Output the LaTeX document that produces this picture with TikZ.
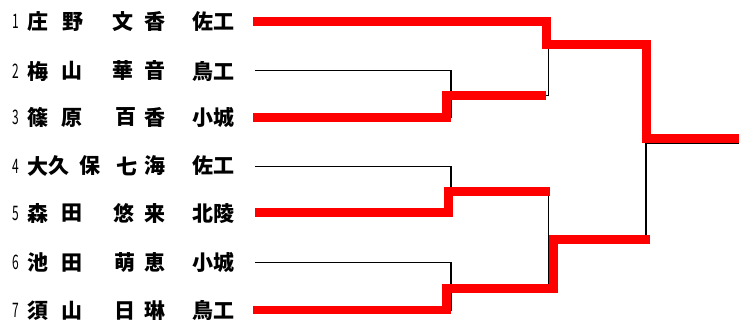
\documentclass[tikz,border=0pt]{standalone}
\usepackage{fontspec}
\newfontfamily\jpfont{Noto Sans CJK JP}
\usetikzlibrary{calc}
\tikzset{
  ch/.style={inner sep=0pt, font=\jpfont\bfseries\fontsize{21}{21}\selectfont},
  num/.style={inner sep=0pt, font=\jpfont\fontsize{20}{20}\selectfont},
  blk/.style={draw=black, line width=1.5pt},
  win/.style={draw=red, line width=8.7pt, line join=miter, line cap=butt}
}
\begin{document}
\begin{tikzpicture}[x=1pt,y=-1pt]
\useasboundingbox (0,0) rectangle (739,320);
% row y positions
\def\ya{21.5}\def\yb{71}\def\yc{117.5}\def\yd{166}\def\ye{213.5}\def\yf{262.7}\def\yg{310.5}
% numbers
\node[num] (n1) at (15.5,\ya) {\scalebox{.6}[1]{1}};
\node[num] (n2) at (15.5,\yb) {\scalebox{.6}[1]{2}};
\node[num] (n3) at (15.5,\yc) {\scalebox{.6}[1]{3}};
\node[num] (n4) at (15.5,\yd) {\scalebox{.6}[1]{4}};
\node[num] (n5) at (15.5,\ye) {\scalebox{.6}[1]{5}};
\node[num] (n6) at (15.5,\yf) {\scalebox{.6}[1]{6}};
\node[num] (n7) at (15.5,\yg) {\scalebox{.6}[1]{7}};
% row 1
\node[ch] (s1a) at (38,\ya) {庄};
\node[ch] (s1b) at (73,\ya) {野};
\node[ch] (g1a) at (123,\ya) {文};
\node[ch] (g1b) at (155,\ya) {香};
\node[ch] (c1) at (213,\ya) {佐工};
% row 2
\node[ch] (s2a) at (38,\yb) {梅};
\node[ch] (s2b) at (72,\yb) {山};
\node[ch] (g2a) at (123,\yb) {華};
\node[ch] (g2b) at (155,\yb) {音};
\node[ch] (c2) at (213,\yb) {鳥工};
% row 3
\node[ch] (s3a) at (38,\yc) {篠};
\node[ch] (s3b) at (72,\yc) {原};
\node[ch] (g3a) at (126,\yc) {百};
\node[ch] (g3b) at (155,\yc) {香};
\node[ch] (c3) at (213,\yc) {小城};
% row 4
\node[ch] (s4a) at (38,\yd) {大};
\node[ch] (s4b) at (59,\yd) {久};
\node[ch] (s4c) at (90,\yd) {保};
\node[ch] (g4a) at (127,\yd) {七};
\node[ch] (g4b) at (155,\yd) {海};
\node[ch] (c4) at (213,\yd) {佐工};
% row 5
\node[ch] (s5a) at (38,\ye) {森};
\node[ch] (s5b) at (72,\ye) {田};
\node[ch] (g5a) at (124,\ye) {悠};
\node[ch] (g5b) at (155,\ye) {来};
\node[ch] (c5) at (213,\ye) {北陵};
% row 6
\node[ch] (s6a) at (38,\yf) {池};
\node[ch] (s6b) at (72,\yf) {田};
\node[ch] (g6a) at (125,\yf) {萌};
\node[ch] (g6b) at (155,\yf) {恵};
\node[ch] (c6) at (213,\yf) {小城};
% row 7
\node[ch] (s7a) at (38,\yg) {須};
\node[ch] (s7b) at (72,\yg) {山};
\node[ch] (g7a) at (125,\yg) {日};
\node[ch] (g7b) at (155,\yg) {琳};
\node[ch] (c7) at (213,\yg) {鳥工};
% bracket coordinates
\coordinate (r1) at (253,21.3);
\coordinate (r2) at (255,70.7);
\coordinate (r3) at (253,117.3);
\coordinate (r4) at (255,166.7);
\coordinate (r5) at (255,212.3);
\coordinate (r6) at (255,262.7);
\coordinate (r7) at (253,310);
\coordinate (A) at (451,95.3);
\coordinate (C) at (451,191.3);
\coordinate (D) at (451,288.3);
\coordinate (B) at (548.7,44.5);
\coordinate (E) at (548.7,239.5);
\coordinate (F) at (646,143);
\coordinate (W) at (739,143);
% black bracket
\draw[blk] (r2) -| (A) |- (r3);
\draw[blk] (r4) -| (C) |- (r5);
\draw[blk] (r6) -| (D) |- (r7);
\draw[blk] (r1) -| (B) |- (A);
\draw[blk] (C) -| (E) |- (D);
\draw[blk] (B) -| (F) |- (E);
\draw[blk] (F) -- (W);
% winners in red
\draw[win] (r3) -| ([xshift=-4.7pt]A) -- ([xshift=-3pt]A -| B);
\draw[win] (r5) -| ([xshift=-2.7pt]C) -- ([xshift=1.3pt]C -| E);
\draw[win] (r7) -| ([xshift=-4.7pt]D) -| ([xshift=4.8pt]E) -- ([xshift=4pt]E -| F);
\draw[win] (r1) -| ([xshift=-2.2pt]B) -| ([xshift=0.6pt,yshift=4.7pt]F) -- ([yshift=4.7pt]W);
\end{tikzpicture}
\end{document}
